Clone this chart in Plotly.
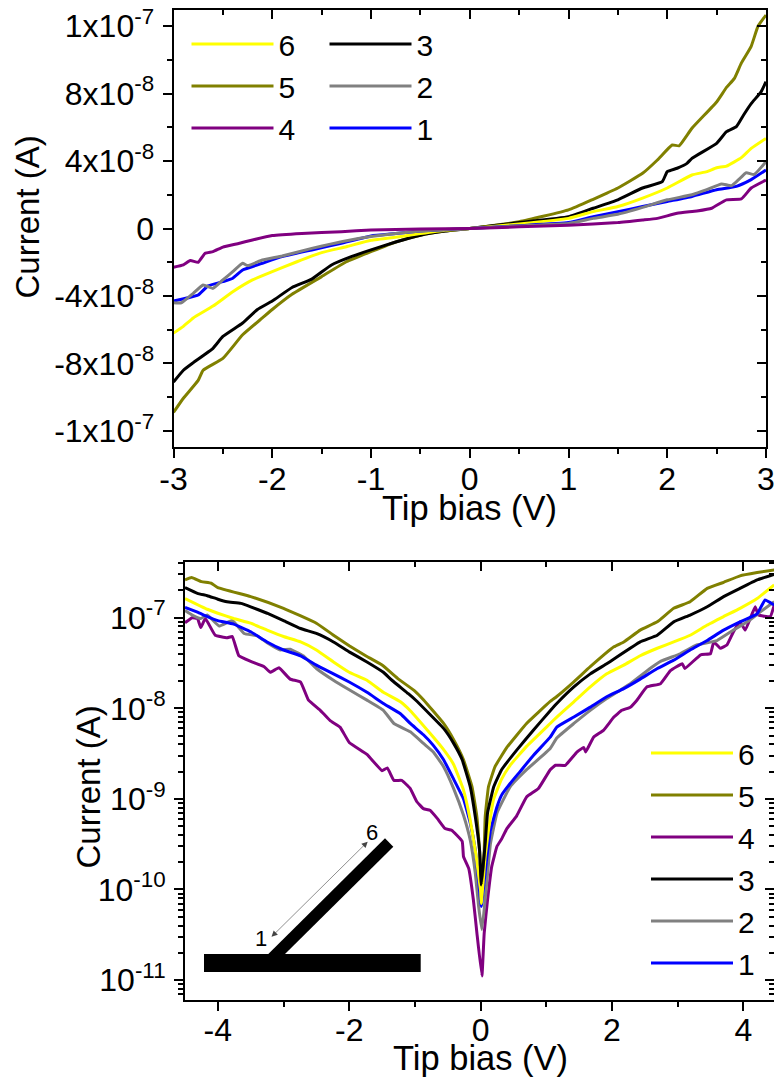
import plotly.graph_objects as go

W, H = 774, 1078
NAMES = ["6", "5", "4", "3", "2", "1"]
COLORS = {"1": "#0000FF", "2": "#808080", "3": "#000000", "4": "#800080", "5": "#808000", "6": "#FFFF00"}
DRAW_TOP = ["5", "3", "6", "1", "2", "4"]
DRAW_LOG = ["4", "2", "1", "6", "5", "3"]

# ---- linear panel, current in nA
top_v5 = [-3,-2.9,-2.75,-2.7,-2.5,-2.3,-2.1,-2,-1.8,-1.5,-1.25,-1,-.75,-.5,-.25,0,.5,1,1.25,1.5,1.75,1.9,2.05,2.12,2.25,2.5,2.6,2.68,2.75,2.85,2.92,3]
top_i5 = [-109,-100.6,-90,-84,-77,-63,-53,-48,-39,-28.5,-19.7,-13.7,-8,-4,-1.5,0,4,11,17.3,24,32.7,40.6,49.5,49,59.4,75,83.6,89,98,108,120,126.5]
top_v3 = [-3,-2.9,-2.8,-2.6,-2.5,-2.3,-2.15,-2,-1.8,-1.6,-1.4,-1.2,-1,-.75,-.5,-.25,0,.5,1,1.25,1.5,1.75,1.95,2,2.1,2.2,2.25,2.5,2.6,2.7,2.77,2.85,2.95,3]
top_i3 = [-91,-84,-79.5,-71,-64,-56,-48,-43,-35,-30,-21.6,-16.7,-12.7,-8,-4,-1.5,0,3.5,7,12,17,24,27.8,33.7,35.7,38.6,41.6,50.5,57.4,60.4,67,74,81,87]
top_v6 = [-3,-2.9,-2.8,-2.6,-2.4,-2.2,-2,-1.75,-1.5,-1.25,-1,-.7,-.5,-.25,0,.5,1,1.25,1.5,1.75,2,2.25,2.4,2.5,2.6,2.75,2.85,3]
top_i6 = [-62,-58,-53,-46,-37.5,-30.5,-25.6,-19.7,-14.3,-10.8,-7,-4.8,-3,-1,0,2.7,6,10,13,18,24,31.7,33.7,36,37,42,47.5,53.4]
top_v1 = [-3,-2.85,-2.75,-2.65,-2.5,-2.4,-2.3,-2.1,-1.9,-1.6,-1.3,-1,-.75,-.5,-.25,0,.5,1,1.25,1.5,1.75,2,2.25,2.5,2.7,2.85,3]
top_i1 = [-43,-41,-39.4,-34,-31.5,-29.5,-24.6,-20.6,-16.7,-12.7,-8.8,-4.4,-3,-1.5,-.7,0,1.7,3.5,7,10,13,16,19,23,25,29,34.7]
top_v2 = [-3,-2.92,-2.8,-2.7,-2.6,-2.5,-2.4,-2.3,-2.25,-2.1,-1.9,-1.6,-1.3,-1,-.75,-.5,-.25,0,.5,1,1.25,1.5,1.75,2,2.25,2.4,2.55,2.65,2.72,2.8,2.88,3]
top_i2 = [-44,-44,-38.4,-33.5,-35.5,-30.5,-25.6,-20.6,-22,-18.7,-16.3,-11.8,-7.8,-4.8,-3,-1.5,-.6,0,1.5,3,6,8.4,12.5,17,20,23,26.4,25.4,28.8,33,32,39.6]
top_v4 = [-3,-2.9,-2.83,-2.75,-2.68,-2.6,-2.5,-2.35,-2.2,-2,-1.7,-1.3,-1,-.5,0,.5,1,1.5,1.75,1.9,2.1,2.3,2.45,2.6,2.75,2.85,3]
top_i4 = [-23,-21.6,-19,-20,-14.7,-13.7,-11,-9,-6.8,-4.2,-2.9,-1.9,-.9,-.3,0,1,2,3.5,5,6,9,10.4,12,17,17.5,24,28.7]

# ---- log panel, |current| in nA
log_v5 = [-4.5,-4.4,-4.25,-4.1,-4,-3.5,-3,-2.5,-2.25,-2,-1.75,-1.5,-1.25,-1,-.867,-.563,-.41,-.26,-.13,-.056,-.016,.005,.02,.055,.07,.12,.22,.4,.7,1.06,1.16,1.42,1.67,2.03,2.18,2.43,2.69,2.94,3.19,3.45,3.7,3.95,4.21,4.47]
log_i5 = [261,278,250,240,215,171,127,87,65,49,38,30,21,15.5,12.35,6.8,4.5,2.7,1.36,.63,.27,.15,.12,.27,.63,1.36,2.27,3.7,6.8,11.9,13.5,19.6,28.8,47.7,54,73,90,127,150,211,246,290,315,337]
log_v3 = [-4.5,-4.31,-4.16,-4,-3.86,-3.65,-3.5,-3.25,-3,-2.74,-2.5,-2.24,-2,-1.73,-1.48,-1.35,-1.1,-.99,-.563,-.41,-.28,-.157,-.08,-.015,.01,.07,.106,.2,.32,.55,.8,1.06,1.16,1.42,1.67,1.92,2.03,2.43,2.69,2.94,3.19,3.45,3.7,3.95,4.21,4.47]
log_i3 = [215,186,175,160,150,144,132,112,93,76,67,54,42,32.5,25,20.4,14.5,12.35,6,4.1,2.7,1.36,.63,.27,.112,.32,.7,1.36,2.1,3.45,5.7,9.4,11.3,17.2,24,31,35,54,64,90,107,132,171,211,261,300]
log_v6 = [-4.5,-4.16,-4,-3.76,-3.5,-3.25,-3,-2.74,-2.5,-2.24,-2,-1.73,-1.48,-1.22,-1.07,-.77,-.563,-.41,-.26,-.157,-.07,0,.01,.07,.12,.2,.32,.45,.7,1.06,1.16,1.42,1.67,1.92,2.18,2.43,2.69,2.94,3.19,3.45,3.7,3.95,4.21,4.47]
log_i6 = [163,124,112,98,87,73,62,54,44,32.5,25,20.4,15,11.8,9.4,5.3,3.5,2.4,1.25,.58,.24,.097,.07,.23,.45,1,1.65,2.35,3.8,6.8,8,11.8,17.2,24,30,38,46,54,64,83,103,127,163,230]
log_v1 = [-4.5,-4.31,-4.16,-4,-3.76,-3.5,-3.25,-3,-2.74,-2.5,-2.24,-2,-1.73,-1.48,-1.22,-1.07,-.87,-.72,-.563,-.41,-.26,-.157,-.08,-.03,.01,.09,.15,.25,.32,.45,.6,.8,1.06,1.16,1.42,1.67,1.92,2.18,2.43,2.69,2.94,3.19,3.45,3.7,3.95,4.21,4.33,4.47]
log_i1 = [130,115,103,93,85,70,54,44,38,30,24,19.5,15,11.3,8.7,6.8,5.1,3.9,2.7,1.65,1,.54,.27,.125,.065,.21,.45,.82,1.1,1.48,2,3,4.8,6.2,8,10.3,13.4,16.5,21,27.5,34,44,56,73,90,110,157,138]
log_v2 = [-4.5,-4.39,-4.26,-4.16,-3.98,-3.78,-3.6,-3.4,-3.25,-3.05,-2.9,-2.7,-2.5,-2.24,-2,-1.73,-1.48,-1.32,-1.07,-.87,-.72,-.563,-.41,-.26,-.157,-.08,-.03,.02,.09,.15,.25,.45,.7,1.06,1.16,1.42,1.67,1.92,2.28,2.58,2.74,3.04,3.29,3.6,3.85,4.06,4.26,4.47]
log_i2 = [120,107,98,107,81,93,67,63,53,44,45,38,27.5,20.4,16,12.3,9.5,6.8,5.5,4.1,3.3,2.27,1.3,.66,.35,.15,.065,.036,.11,.32,.7,1.36,2.1,3.6,4.7,6.8,9.5,12.8,18.7,27.5,33,40,50,56,73,90,116,150]
log_v4 = [-4.5,-4.39,-4.31,-4.26,-4.19,-4.04,-3.86,-3.78,-3.68,-3.5,-3.3,-3.2,-3.07,-2.9,-2.74,-2.62,-2.44,-2.29,-2.14,-2,-1.73,-1.5,-1.42,-1.32,-1.2,-1.07,-.97,-.87,-.77,-.66,-.54,-.44,-.28,-.26,-.18,-.11,-.056,.02,.055,.106,.17,.25,.32,.4,.55,.7,.88,1.06,1.14,1.29,1.47,1.57,1.6,1.72,1.87,2.03,2.15,2.28,2.38,2.53,2.74,2.89,3.07,3.11,3.35,3.5,3.55,3.65,3.75,3.85,3.95,4.03,4.18,4.23,4.41,4.47]
log_i4 = [88,100,98,78,98,64,60,62,38,33,29,25,28,21,19.5,12.3,9.5,7.3,6.2,4.2,3.1,2.05,2.2,1.6,1.6,1.3,.93,.78,.75,.61,.47,.45,.34,.23,.17,.077,.033,.0111,.033,.077,.18,.3,.36,.47,.65,1.05,1.3,2.1,2.35,2.35,3.3,3.7,3.3,4.8,5.7,8,9.5,10.3,12.3,17.2,18.7,26,31,27.5,39,40,54,46,50,70,90,73,132,107,103,138]

TOP = {"1": (top_v1, top_i1), "2": (top_v2, top_i2), "3": (top_v3, top_i3),
       "4": (top_v4, top_i4), "5": (top_v5, top_i5), "6": (top_v6, top_i6)}
LOG = {"1": (log_v1, log_i1), "2": (log_v2, log_i2), "3": (log_v3, log_i3),
       "4": (log_v4, log_i4), "5": (log_v5, log_i5), "6": (log_v6, log_i6)}

top_x_ticks = [-3, -2, -1, 0, 1, 2, 3]
top_x_labels = ["-3", "-2", "-1", "0", "1", "2", "3"]
top_x_minor = [-2.5, -1.5, -.5, .5, 1.5, 2.5]
top_y_ticks = [-120, -80, -40, 0, 40, 80, 120]
top_y_labels = ["-1x10<sup>-7</sup>", "-8x10<sup>-8</sup>", "-4x10<sup>-8</sup>", "0",
                "4x10<sup>-8</sup>", "8x10<sup>-8</sup>", "1x10<sup>-7</sup>"]
top_y_minor = [-100, -60, -20, 20, 60, 100]
log_x_ticks = [-4, -2, 0, 2, 4]
log_x_labels = ["-4", "-2", "0", "2", "4"]
log_x_minor = [-3, -1, 1, 3]
log_y_ticks = [100, 10, 1, .1, .01]
log_y_labels = ["10<sup>-7</sup>", "10<sup>-8</sup>", "10<sup>-9</sup>", "10<sup>-10</sup>", "10<sup>-11</sup>"]
log_y_minor = [m * d for d in [.001, .01, .1, 1, 10, 100] for m in range(2, 10)]

FONT = "Liberation Sans"
def px(x): return x / W
def py(y): return 1 - y / H

fig = go.Figure()
rank = {n: i for i, n in enumerate(NAMES)}
for n in DRAW_TOP:
    v, i = TOP[n]
    fig.add_trace(go.Scatter(x=v, y=i, mode="lines", name=n,
                             line=dict(color=COLORS[n], width=3, shape="spline", smoothing=0.4),
                             xaxis="x", yaxis="y", legend="legend" if n in "654" else "legend2",
                             legendrank=rank[n] + 1))
for n in DRAW_LOG:
    v, i = LOG[n]
    fig.add_trace(go.Scatter(x=v, y=i, mode="lines", name=n,
                             line=dict(color=COLORS[n], width=3, shape="spline", smoothing=0.3),
                             xaxis="x2", yaxis="y2", legend="legend3", legendrank=rank[n] + 1))
fig.add_trace(go.Scatter(x=[], y=[], xaxis="x3", yaxis="y3", showlegend=False, hoverinfo="skip"))
fig.add_trace(go.Scatter(x=[], y=[], xaxis="x4", yaxis="y4", showlegend=False, hoverinfo="skip"))

def axis(**kw):
    base = dict(showgrid=False, zeroline=False, showline=True, linecolor="black", linewidth=2,
                ticks="outside", ticklen=9, tickwidth=1.5, tickcolor="black", ticklabeloverflow="allow",
                tickfont=dict(family=FONT, size=32, color="black"), automargin=False)
    base.update(kw)
    return base

def minor(vals):
    return dict(tickmode="array", tickvals=vals, ticks="outside", ticklen=5, tickwidth=1.5, tickcolor="black", showgrid=False)

def minor_in(vals):
    m = minor(vals); m["ticks"] = "inside"
    return m

X1 = (px(173.5), px(766)); Y1 = (py(447), py(10))
X2 = (px(185), 1); Y2 = (py(1000), py(562))
XR1 = [-3, 3]; YR1 = [-129.5, 129.5]
XR2 = [-4.5, 4.467]; YR2 = [-2.22, 2.615]

fig.update_layout(
    width=W, height=H, autosize=False, margin=dict(l=0, r=0, t=0, b=0),
    paper_bgcolor="white", plot_bgcolor="white", showlegend=True,
    font=dict(family=FONT, color="black"),
    xaxis=axis(domain=X1, range=XR1, anchor="y", tickmode="array", tickvals=top_x_ticks, ticktext=top_x_labels,
               minor=minor(top_x_minor), ticklabelstandoff=-6),
    yaxis=axis(domain=Y1, range=YR1, anchor="x", tickmode="array", tickvals=top_y_ticks, ticktext=top_y_labels,
               minor=minor(top_y_minor), ticklabelstandoff=2),
    xaxis2=axis(domain=X2, range=XR2, anchor="y2", tickmode="array", tickvals=log_x_ticks, ticktext=log_x_labels,
                minor=minor(log_x_minor), ticklabelstandoff=-8),
    yaxis2=axis(domain=Y2, range=YR2, type="log", anchor="x2", tickmode="array", tickvals=log_y_ticks,
                ticktext=log_y_labels, minor=minor(log_y_minor), ticklabelstandoff=2),
    xaxis3=axis(domain=X1, range=XR1, anchor="y3", overlaying="x", side="top", ticks="inside", showticklabels=False,
                tickmode="array", tickvals=top_x_ticks, minor=minor_in(top_x_minor)),
    yaxis3=axis(domain=Y1, range=YR1, anchor="x3", overlaying="y", side="right", ticks="inside", showticklabels=False,
                tickmode="array", tickvals=top_y_ticks, minor=minor_in(top_y_minor)),
    xaxis4=axis(domain=X2, range=XR2, anchor="y4", overlaying="x2", side="top", ticks="inside", showticklabels=False,
                tickmode="array", tickvals=log_x_ticks, minor=minor_in(log_x_minor)),
    yaxis4=axis(domain=Y2, range=YR2, type="log", anchor="x4", overlaying="y2", side="right", ticks="inside",
                showticklabels=False, showline=False, tickmode="array", tickvals=log_y_ticks,
                minor=minor_in(log_y_minor)),
)

def legend(x, y):
    return dict(x=px(x), y=py(y), xanchor="left", yanchor="top", bgcolor="rgba(0,0,0,0)", borderwidth=0,
                font=dict(family=FONT, size=30, color="black"), itemwidth=82, traceorder="normal",
                itemclick=False, itemdoubleclick=False)
fig.update_layout(legend=legend(186.5, 18), legend2=legend(324.5, 18), legend3=legend(646, 727))

def title(x, y, text, size, angle=0):
    fig.add_annotation(xref="paper", yref="paper", x=px(x), y=py(y), text=text, showarrow=False, textangle=angle,
                       xanchor="center", yanchor="middle", font=dict(family=FONT, size=size, color="black"))
title(469.5, 508, "Tip bias (V)", 34.5)
title(480, 1058, "Tip bias (V)", 34.5)
title(27, 217.5, "Current (A)", 33, -90)
title(88, 787.5, "Current (A)", 33, -90)

# inset sketch of the device
fig.add_shape(type="rect", xref="paper", yref="paper", x0=px(204), x1=px(420.7), y0=py(972), y1=py(954),
              fillcolor="black", line_width=0)
fig.add_shape(type="path", xref="paper", yref="paper",
              path=f"M{px(268.3)},{py(954)} L{px(385)},{py(838.3)} L{px(393.3)},{py(846.7)} L{px(285)},{py(954)} Z",
              fillcolor="black", line_width=0)
fig.add_annotation(xref="paper", yref="paper", axref="pixel", ayref="pixel", x=px(367.7), y=py(841.7),
                   ax=-97.7, ay=96.6, showarrow=True, arrowside="end+start", arrowhead=2, arrowsize=2,
                   arrowwidth=0.6, arrowcolor="#444444", text="")
title(261, 938, "1", 22)
title(371.7, 832, "6", 22)

fig.write_html("out.html", config=dict(displayModeBar=False),
               post_script="document.body.style.margin='0';document.body.style.overflow='hidden';")
